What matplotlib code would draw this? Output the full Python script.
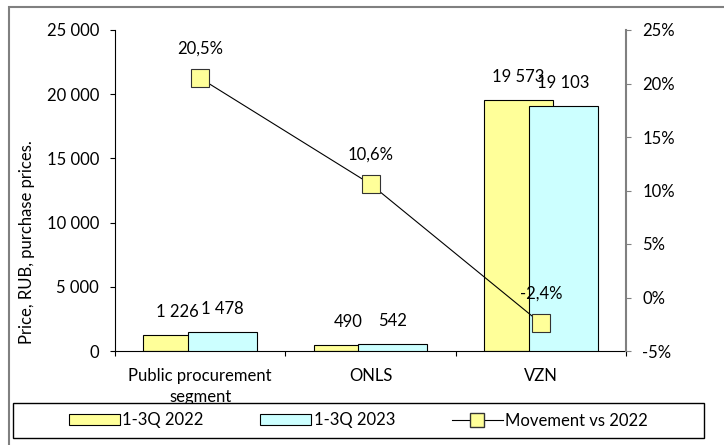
import matplotlib
matplotlib.use("Agg")
import matplotlib.pyplot as plt
from matplotlib.patches import Rectangle
from matplotlib.lines import Line2D
from matplotlib.ticker import FuncFormatter, MultipleLocator
import numpy as np

categories = ["Public procurement\nsegment", "ONLS", "VZN"]
values_2022 = [1226, 490, 19573]
values_2023 = [1478, 542, 19103]
movement = [20.5, 10.6, -2.4]
labels_2022 = ["1 226", "490", "19 573"]
labels_2023 = ["1 478", "542", "19 103"]
movement_labels = ["20,5%", "10,6%", "-2,4%"]
series_names = ["1-3Q 2022", "1-3Q 2023", "Movement vs 2022"]

plt.rcParams['font.family'] = ['Lato', 'DejaVu Sans']
FS = 12

W, H = 724, 445
fig = plt.figure(figsize=(W / 100, H / 100), dpi=100)
ax = fig.add_axes([115 / W, 1 - 351 / H, (626 - 115) / W, (351 - 30) / H])
ax2 = ax.twinx()

x = np.arange(len(categories))
bw = 0.405
off = 0.132
yellow = "#FFFF99"
cyan = "#CCFFFF"

ax.bar(x - off, values_2022, bw, color=yellow, edgecolor="black", linewidth=0.8, zorder=2)
ax.bar(x + off, values_2023, bw, color=cyan, edgecolor="black", linewidth=0.8, zorder=3)
for xi, v, t in zip(x - off, values_2022, labels_2022):
    ax.annotate(t, (xi, v), xytext=(0, 16.5), textcoords="offset points",
                ha="center", va="center", fontsize=FS, zorder=5)
for xi, v, t in zip(x + off, values_2023, labels_2023):
    ax.annotate(t, (xi, v), xytext=(0, 16.5), textcoords="offset points",
                ha="center", va="center", fontsize=FS, zorder=5)

ax.set_xlim(-0.5, 2.5)
ax.set_ylim(0, 25000)
ax.yaxis.set_major_locator(MultipleLocator(5000))
ax.yaxis.set_major_formatter(FuncFormatter(lambda v, p: f"{int(v):,}".replace(",", " ")))
ax.set_xticks([-0.5, 0.5, 1.5, 2.5])
ax.set_xticklabels([])
ax.set_xticks(x, minor=True)
ax.set_xticklabels(categories, minor=True, fontsize=FS, linespacing=1.4)
ax.tick_params(axis="x", which="minor", length=0, pad=12)
ax.tick_params(axis="x", which="major", length=3.6, direction="out", color="black")
ax.tick_params(axis="y", length=3.6, direction="out", labelsize=FS, pad=8)
ax.set_ylabel("Price, RUB, purchase prices.", fontsize=FS)
ax.yaxis.set_label_coords(35 / W, 1 - 242 / H, transform=fig.transFigure)

ax2.plot(x, movement, color="black", linewidth=0.8, marker="s", markersize=13.5,
         markerfacecolor=yellow, markeredgecolor="#333333", markeredgewidth=0.8, zorder=6)
for xi, v, t in zip(x, movement, movement_labels):
    ax2.annotate(t, (xi, v), xytext=(0, 21.5), textcoords="offset points",
                 ha="center", va="center", fontsize=FS)
ax2.set_ylim(-5, 25)
ax2.yaxis.set_major_locator(MultipleLocator(5))
ax2.yaxis.set_major_formatter(FuncFormatter(lambda v, p: f"{int(round(v))}%"))
ax2.tick_params(axis="y", length=3.6, direction="out", labelsize=FS, color="#808080", pad=8)

for a in (ax, ax2):
    a.spines["top"].set_visible(False)
ax.spines["right"].set_visible(False)
ax2.spines["left"].set_visible(False)
ax2.spines["bottom"].set_visible(False)
ax2.spines["right"].set_color("#808080")
ax2.spines["right"].set_linewidth(1.5)
ax.spines["left"].set_color("black")
ax.spines["bottom"].set_color("black")
ax.spines["left"].set_linewidth(0.8)
ax.spines["bottom"].set_linewidth(0.8)

# outer chart border
fig.patches.append(Rectangle((9 / W, -0.05), 1.1, 1 - 7 / H + 0.05, transform=fig.transFigure,
                             fill=False, edgecolor="#808080", linewidth=1.5, zorder=0))
# legend box
fig.patches.append(Rectangle((13 / W, 1 - 438 / H), (704 - 13) / W, 35 / H, transform=fig.transFigure,
                             facecolor="white", edgecolor="black", linewidth=1.0, zorder=10))
handles = [
    Rectangle((0, 0), 1, 1, facecolor=yellow, edgecolor="black", linewidth=0.8),
    Rectangle((0, 0), 1, 1, facecolor=cyan, edgecolor="black", linewidth=0.8),
    Line2D([], [], color="black", linewidth=0.8, marker="s", markersize=10,
           markerfacecolor=yellow, markeredgecolor="#333333"),
]
leg = fig.legend(handles, series_names, loc="center", ncol=3, frameon=False,
                 bbox_to_anchor=(13 / W, 1 - 438 / H, (704 - 13) / W, 35 / H),
                 fontsize=FS, handlelength=3.06, handleheight=0.65, handletextpad=0.15,
                 columnspacing=3.4)
leg.set_zorder(11)

fig.savefig("out.png", dpi=100)
